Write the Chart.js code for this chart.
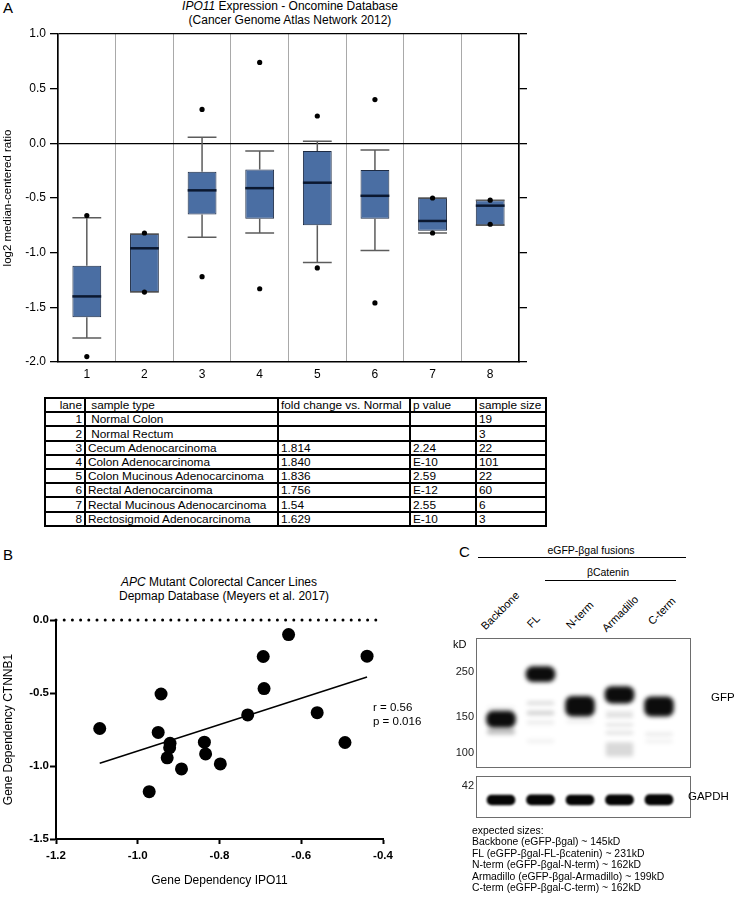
<!DOCTYPE html>
<html>
<head>
<meta charset="utf-8">
<script src="https://cdn.jsdelivr.net/npm/chart.js@4.4.1/dist/chart.umd.min.js"></script>
<style>
body { margin:0; background:#fff; width:737px; height:906px; position:relative; overflow:hidden;
       font-family: Arial, "Liberation Sans", Helvetica, sans-serif; color:#000; }
.t { position:absolute; white-space:nowrap; }
canvas { position:absolute; }
.panel { font-size:15px; }
.hline { position:absolute; height:0; border-top:1px solid #000; }
.rot { position:absolute; font-size:11px; line-height:12px; white-space:nowrap; transform-origin:0 100%; transform:rotate(-45deg); }
#laneTable { position:absolute; left:44px; top:397px; border-collapse:collapse; table-layout:fixed; font-size:11.8px; }
#laneTable td { border:2px solid #000; padding:0 2px; height:12.2px; line-height:12px; white-space:nowrap; overflow:hidden; vertical-align:bottom; }
#laneTable td.num { text-align:right; }
</style>
</head>
<body>

<!-- panel A -->
<div class="t panel" style="left:3px; top:-1px;">A</div>
<div class="t" style="left:140px; top:0; width:300px; text-align:center; font-size:12px; line-height:13.5px;">
  <i>IPO11</i> Expression - Oncomine Database<br>(Cancer Genome Atlas Network 2012)
</div>
<canvas id="boxChart" width="540" height="385" style="left:0; top:0;"></canvas>
<table id="laneTable">
  <colgroup><col style="width:40px"><col style="width:193px"><col style="width:132px"><col style="width:66px"><col style="width:70px"></colgroup>
  <tbody id="laneBody"></tbody>
</table>

<!-- panel B -->
<div class="t panel" style="left:3px; top:546px;">B</div>
<div class="t" style="left:119px; top:575px; width:200px; text-align:center; font-size:12px; line-height:14px;">
  <i>APC</i> Mutant Colorectal Cancer Lines<br>Depmap Database (Meyers et al. 2017)
</div>
<canvas id="scatterChart" width="400" height="300" style="left:0; top:600px;"></canvas>
<div class="t" style="left:373px; top:700px; font-size:11.5px; line-height:14px;">r = 0.56<br>p = 0.016</div>

<!-- panel C -->
<div class="t panel" style="left:459px; top:543px;">C</div>
<div class="t" style="left:531px; top:544px; width:120px; text-align:center; font-size:10.5px;">eGFP-βgal fusions</div>
<div class="hline" style="left:478px; top:557px; width:208px;"></div>
<div class="t" style="left:568px; top:566px; width:80px; text-align:center; font-size:10.5px;">βCatenin</div>
<div class="hline" style="left:545px; top:580px; width:131px;"></div>
<div id="laneLabels"></div>
<div class="t" style="left:453px; top:638px; font-size:11px;">kD</div>
<canvas id="gfpBlot" width="280" height="160" style="left:430px; top:620px;"></canvas>
<canvas id="gapdhBlot" width="280" height="70" style="left:430px; top:760px;"></canvas>
<div class="t" style="left:711px; top:691px; font-size:11.5px;">GFP</div>
<div class="t" style="left:688px; top:790px; font-size:11.5px;">GAPDH</div>
<div class="t" style="left:472px; top:825px; font-size:10.4px; line-height:11.4px;">
  expected sizes:<br>
  Backbone (eGFP-βgal) ~ 145kD<br>
  FL (eGFP-βgal-FL-βcatenin) ~ 231kD<br>
  N-term (eGFP-βgal-N-term) ~ 162kD<br>
  Armadillo (eGFP-βgal-Armadillo) ~ 199kD<br>
  C-term (eGFP-βgal-C-term) ~ 162kD
</div>

<script>
// ---- panel A: IPO11 expression box plot ----
const lanes = ['1', '2', '3', '4', '5', '6', '7', '8'];
const boxQ1 = [-1.59, -1.36, -0.65, -0.69, -0.75, -0.69, -0.80, -0.75];
const boxQ3 = [-1.12, -0.83, -0.26, -0.24, -0.07, -0.245, -0.50, -0.52];
const boxMedian = [-1.40, -0.96, -0.43, -0.41, -0.36, -0.48, -0.71, -0.57];
const whiskerLow = [-1.78, -1.36, -0.86, -0.82, -1.09, -0.98, -0.82, -0.75];
const whiskerHigh = [-0.68, -0.83, 0.055, -0.07, 0.02, -0.06, -0.50, -0.52];
const outlierLane = ['1', '1', '2', '2', '3', '3', '4', '4', '5', '5', '6', '6', '7', '7', '8', '8'];
const outlierValue = [-0.66, -1.95, -0.82, -1.36, 0.31, -1.22, 0.74, -1.33, 0.25, -1.14, 0.40, -1.46, -0.50, -0.82, -0.52, -0.74];

// table under panel A
const sampleType = ['Normal Colon', 'Normal Rectum', 'Cecum Adenocarcinoma', 'Colon Adenocarcinoma',
    'Colon Mucinous Adenocarcinoma', 'Rectal Adenocarcinoma', 'Rectal Mucinous Adenocarcinoma', 'Rectosigmoid Adenocarcinoma'];
const foldChange = ['', '', '1.814', '1.840', '1.836', '1.756', '1.54', '1.629'];
const pValue = ['', '', '2.24', 'E-10', '2.59', 'E-12', '2.55', 'E-10'];
const sampleSize = ['19', '3', '22', '101', '22', '60', '6', '3'];

// ---- panel B: gene dependency scatter ----
const ipo11Dep = [-0.631, -0.693, -0.691, -0.943, -0.731, -0.561, -1.093, -0.950, -0.921, -0.922,
    -0.837, -0.834, -0.928, -0.893, -0.798, -0.972, -0.493, -0.439];
const ctnnb1Dep = [-0.10, -0.25, -0.47, -0.507, -0.65, -0.635, -0.743, -0.77, -0.845, -0.875,
    -0.837, -0.917, -0.944, -1.02, -0.986, -1.176, -0.839, -0.248];
const fitX = [-1.093, -0.439];
const fitY = [-0.981, -0.39];

// ---- panel C: western blot ----
const blotLanes = ['Backbone', 'FL', 'N-term', 'Armadillo', 'C-term'];
const laneX = [1, 2, 3, 4, 5];
const mainBandLow = [133, 223, 151, 175, 151];
const mainBandHigh = [160, 264, 189, 211, 188];
const faintBandLane = [1, 1, 2, 2, 2, 2, 3, 4, 4, 4, 4, 4, 5, 5];
const faintBandLow = [123, 160, 172, 153, 138, 112, 140, 155, 149, 135, 123, 96, 121, 112];
const faintBandHigh = [131, 168, 178, 160, 143, 116, 146, 159, 153, 139, 127, 112, 125, 116];
const faintBandShade = [0.25, 0.06, 0.14, 0.18, 0.08, 0.06, 0.06, 0.12, 0.15, 0.12, 0.12, 0.15, 0.09, 0.06];
const markerKD = [250, 150, 100];
const gapdhLow = [32.9, 32.9, 32.9, 32.9, 32.9];
const gapdhHigh = [37.7, 37.8, 37.7, 37.8, 37.9];

const FONT = 'Arial, "Liberation Sans", Helvetica, sans-serif';
Chart.defaults.font.family = FONT;
Chart.defaults.color = '#000';
Chart.defaults.animation = false;
Chart.defaults.plugins.legend.display = false;
Chart.defaults.plugins.tooltip.enabled = false;

// table rows
const body = document.getElementById('laneBody');
const head = document.createElement('tr');
head.innerHTML = '<td class="num">lane</td><td>&nbsp;sample type</td><td>fold change vs. Normal</td><td>p value</td><td>sample size</td>';
body.appendChild(head);
sampleType.forEach(function (s, i) {
    const tr = document.createElement('tr');
    const name = i < 2 ? '&nbsp;' + s : s;
    tr.innerHTML = '<td class="num">' + lanes[i] + '</td><td>' + name + '</td><td>' + foldChange[i] +
        '</td><td>' + pValue[i] + '</td><td>' + sampleSize[i] + '</td>';
    body.appendChild(tr);
});

// whiskers + medians drawn right after the box dataset
const boxDetails = {
    id: 'boxDetails',
    afterDatasetDraw(chart, args) {
        if (args.index !== 1) return;
        const ctx = chart.ctx;
        const x = chart.scales.x, y = chart.scales.y;
        const cap = (x.getPixelForValue(1) - x.getPixelForValue(0)) * 0.25;
        ctx.save();
        lanes.forEach(function (l, i) {
            const cx = x.getPixelForValue(i);
            const hi = y.getPixelForValue(whiskerHigh[i]);
            const lo = y.getPixelForValue(whiskerLow[i]);
            ctx.strokeStyle = '#5c5c5c';
            ctx.lineWidth = 1.5;
            ctx.beginPath();
            ctx.moveTo(cx, y.getPixelForValue(boxQ3[i]));
            ctx.lineTo(cx, hi);
            ctx.moveTo(cx - cap, hi);
            ctx.lineTo(cx + cap, hi);
            ctx.moveTo(cx, y.getPixelForValue(boxQ1[i]));
            ctx.lineTo(cx, lo);
            ctx.moveTo(cx - cap, lo);
            ctx.lineTo(cx + cap, lo);
            ctx.stroke();
            const m = y.getPixelForValue(boxMedian[i]);
            ctx.strokeStyle = '#0b1830';
            ctx.lineWidth = 2.5;
            ctx.beginPath();
            ctx.moveTo(cx - cap, m);
            ctx.lineTo(cx + cap, m);
            ctx.stroke();
        });
        ctx.restore();
    }
};

const isLine = v => Math.abs(v) < 1e-9 || Math.abs(v - 1) < 1e-9;

new Chart(document.getElementById('boxChart').getContext('2d'), {
    type: 'bar',
    data: {
        labels: lanes,
        datasets: [{
            type: 'line',
            data: outlierLane.map((l, i) => ({ x: l, y: outlierValue[i] })),
            showLine: false,
            pointRadius: 2.6,
            pointBackgroundColor: '#000',
            pointBorderWidth: 0
        }, {
            data: lanes.map((l, i) => [boxQ1[i], boxQ3[i]]),
            backgroundColor: '#4a6ea3',
            borderColor: '#1d2b44',
            borderWidth: 1,
            borderSkipped: false,
            barPercentage: 0.5,
            categoryPercentage: 1.0
        }]
    },
    options: {
        responsive: false,
        layout: { padding: { top: 34, left: 0, right: 13, bottom: 3 } },
        scales: {
            x: {
                grid: { color: '#a9a9a9', lineWidth: 1, drawTicks: false, offset: true },
                border: { color: '#000', width: 1.5 },
                ticks: { font: { size: 12 }, padding: 5 },
                afterFit(scale) { scale.height = 20; }
            },
            y: {
                min: -2, max: 1,
                ticks: { stepSize: 0.5, font: { size: 12 }, padding: 4, callback: v => v.toFixed(1) },
                grid: {
                    color: ctx => isLine(ctx.tick.value) ? '#000' : 'rgba(0,0,0,0)',
                    lineWidth: 1.3, tickColor: '#000', tickLength: 8
                },
                border: { color: '#000', width: 1.5 },
                title: { display: true, text: 'log2 median-centered ratio', font: { size: 11.5 }, padding: { top: 1 } },
                afterFit(scale) { scale.width = 58; }
            },
            y2: {
                position: 'right',
                min: -2, max: 1,
                ticks: { display: false, stepSize: 0.5 },
                grid: { drawOnChartArea: false, tickColor: '#000', tickLength: 8, lineWidth: 1.3 },
                border: { color: '#000', width: 1.5 },
                afterFit(scale) { scale.width = 8; }
            }
        }
    },
    plugins: [boxDetails]
});

// panel B
new Chart(document.getElementById('scatterChart').getContext('2d'), {
    type: 'scatter',
    data: {
        datasets: [{
            data: ipo11Dep.map((v, i) => ({ x: v, y: ctnnb1Dep[i] })),
            pointRadius: 6.5,
            pointBackgroundColor: '#000',
            pointBorderWidth: 0
        }, {
            type: 'line',
            data: fitX.map((v, i) => ({ x: v, y: fitY[i] })),
            borderColor: '#000',
            borderWidth: 1.5,
            pointRadius: 0
        }, {
            type: 'line',
            data: [{ x: -1.2, y: 0 }, { x: -0.4, y: 0 }],
            borderColor: '#000',
            borderWidth: 3,
            borderDash: [0, 8.2],
            borderCapStyle: 'round',
            pointRadius: 0,
            clip: false
        }]
    },
    options: {
        responsive: false,
        layout: { padding: { top: 20, left: 0, right: 17, bottom: 6 } },
        scales: {
            x: {
                type: 'linear',
                min: -1.2, max: -0.4,
                ticks: { stepSize: 0.2, font: { size: 11.5, weight: 'bold' }, padding: 5, callback: v => v.toFixed(1) },
                grid: { drawOnChartArea: false, tickColor: '#000', tickLength: 5, tickWidth: 2 },
                border: { color: '#000', width: 2 },
                title: { display: true, text: 'Gene Dependency IPO11', font: { size: 12 }, padding: { bottom: 6 } },
                afterFit(scale) { scale.height = 55; }
            },
            y: {
                min: -1.5, max: 0,
                ticks: { stepSize: 0.5, font: { size: 11.5, weight: 'bold' }, padding: 1, callback: v => v.toFixed(1) },
                grid: { drawOnChartArea: false, tickColor: '#000', tickLength: 6, tickWidth: 2 },
                border: { color: '#000', width: 2 },
                title: { display: true, text: 'Gene Dependency CTNNB1', font: { size: 12 }, padding: { top: 1 } },
                afterFit(scale) { scale.width = 56; }
            }
        }
    }
});

// panel C
const laneLabelPos = [[487, 632], [533, 630], [572, 631], [608, 634], [654, 627]];
const labelBox = document.getElementById('laneLabels');
blotLanes.forEach(function (name, i) {
    const s = document.createElement('span');
    s.className = 'rot';
    s.textContent = name;
    s.style.left = laneLabelPos[i][0] + 'px';
    s.style.top = (laneLabelPos[i][1] - 12) + 'px';
    labelBox.appendChild(s);
});

const blur = {
    id: 'blur',
    beforeDatasetsDraw(chart, args, opts) {
        chart.ctx.save();
        chart.ctx.filter = 'blur(' + opts.px + 'px)';
    },
    afterDatasetsDraw(chart) {
        chart.ctx.restore();
    }
};
const frame = {
    id: 'frame',
    afterDraw(chart) {
        const a = chart.chartArea, ctx = chart.ctx;
        ctx.save();
        ctx.strokeStyle = '#6d6d6d';
        ctx.lineWidth = 1;
        ctx.strokeRect(Math.round(a.left) + 0.5, Math.round(a.top) + 0.5, Math.round(a.right - a.left), Math.round(a.bottom - a.top));
        ctx.restore();
    }
};

const laneScale = { type: 'linear', display: false, min: 0.367, max: 5.785, offset: false };

new Chart(document.getElementById('gfpBlot').getContext('2d'), {
    type: 'bar',
    data: {
        datasets: [{
            data: laneX.map((x, i) => ({ x: x, y: [mainBandLow[i], mainBandHigh[i]] })),
            backgroundColor: '#0c0c0c',
            barThickness: 29,
            borderRadius: 7,
            borderSkipped: false,
            grouped: false
        }, {
            data: faintBandLane.map((x, i) => ({ x: x, y: [faintBandLow[i], faintBandHigh[i]] })),
            backgroundColor: faintBandShade.map(a => 'rgba(0,0,0,' + a + ')'),
            barThickness: 27,
            borderRadius: 2,
            borderSkipped: false,
            grouped: false
        }]
    },
    options: {
        responsive: false,
        layout: { padding: { top: 18, left: 0, right: 20, bottom: 13 } },
        plugins: { blur: { px: 2.2 } },
        scales: {
            x: laneScale,
            y: {
                type: 'logarithmic',
                min: 85, max: 365,
                afterBuildTicks(scale) { scale.ticks = markerKD.map(v => ({ value: v })); },
                ticks: { font: { size: 11 }, color: '#222', padding: 2, callback: v => String(v) },
                grid: { display: false, drawTicks: false },
                border: { display: false },
                afterFit(scale) { scale.width = 46; }
            }
        }
    },
    plugins: [blur, frame]
});

new Chart(document.getElementById('gapdhBlot').getContext('2d'), {
    type: 'bar',
    data: {
        datasets: [{
            data: laneX.map((x, i) => ({ x: x, y: [gapdhLow[i], gapdhHigh[i]] })),
            backgroundColor: '#050505',
            barThickness: 28,
            borderRadius: 5,
            borderSkipped: false,
            grouped: false
        }]
    },
    options: {
        responsive: false,
        layout: { padding: { top: 16, left: 0, right: 20, bottom: 13 } },
        plugins: { blur: { px: 0.9 } },
        scales: {
            x: laneScale,
            y: {
                min: 27, max: 47,
                afterBuildTicks(scale) { scale.ticks = [{ value: 42 }]; },
                ticks: { font: { size: 11 }, color: '#222', padding: 2 },
                grid: { display: false, drawTicks: false },
                border: { display: false },
                afterFit(scale) { scale.width = 46; }
            }
        }
    },
    plugins: [blur, frame]
});
</script>
</body>
</html>
